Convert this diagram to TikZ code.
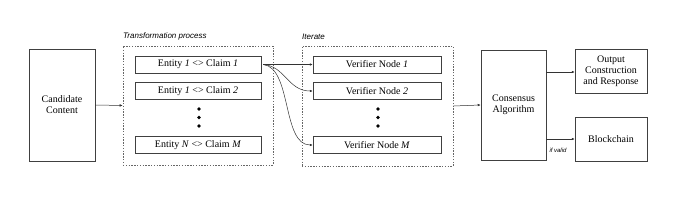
\documentclass[tikz,border=0pt]{standalone}
\usepackage{fontspec}
\setmainfont{Liberation Serif}
\newfontfamily\lblfont{Liberation Sans}
\usetikzlibrary{arrows.meta}
\begin{document}
\begin{tikzpicture}[x=1pt,y=-1pt,
  box/.style={draw=black!75,line width=0.5pt,inner sep=1pt,align=center,font=\fontsize{10}{11}\selectfont},
  dbox/.style={draw=black!60,line width=0.7pt,dash pattern=on 1.4pt off 1.4pt},
  conn/.style={draw=black!80,line width=0.5pt,-{Latex[length=3pt,width=2.6pt]}},
  lbl/.style={font=\lblfont\itshape\fontsize{8}{9}\selectfont,anchor=south west,inner sep=0pt},
  dot/.style={circle,fill=black,inner sep=0pt,minimum size=3.6pt}]
\useasboundingbox (0,0) rectangle (678,211);
\node[box,minimum width=66pt,minimum height=112pt] (cand) at (62,105) {Candidate\\Content};
\node[dbox,minimum width=150pt,minimum height=119pt] (trans) at (198,105.5) {};
\node[lbl] (tl) at (123,40) {Transformation process};
\node[box,minimum width=126pt,minimum height=17pt] (e11) at (198,64.5) {Entity \textit{1} <> Claim \textit{1}};
\node[box,minimum width=126pt,minimum height=17pt] (e12) at (198,91) {Entity \textit{1} <> Claim \textit{2}};
\node[box,minimum width=126pt,minimum height=17pt] (enm) at (198,145) {Entity \textit{N} <> Claim \textit{M}};
\node[dot] (d1) at (199,109) {};
\node[dot] (d2) at (199,117.5) {};
\node[dot] (d3) at (199,126) {};
\node[dbox,minimum width=151pt,minimum height=120pt] (iter) at (377.5,106) {};
\node[lbl] (il) at (302,40) {Iterate};
\node[box,minimum width=128pt,minimum height=17pt] (v1) at (377,64.5) {Verifier Node \textit{1}};
\node[box,minimum width=128pt,minimum height=17pt] (v2) at (377,91) {Verifier Node \textit{2}};
\node[box,minimum width=128pt,minimum height=17pt] (vm) at (377,145) {Verifier Node \textit{M}};
\node[dot] (f1) at (378,109) {};
\node[dot] (f2) at (378,117.5) {};
\node[dot] (f3) at (378,126) {};
\node[box,minimum width=65pt,minimum height=110pt] (cons) at (513.5,105) {Consensus\\Algorithm};
\node[box,minimum width=72pt,minimum height=44pt] (out) at (611,71) {Output\\Construction\\and Response};
\node[box,minimum width=72pt,minimum height=44pt] (bc) at (611,139) {Blockchain};
\coordinate (s) at ([xshift=2pt]e11.east);
\draw[conn] (cand.east) -- (trans.west);
\draw[conn] (s) -- (v1.west);
\draw[conn] (s) .. controls (285,66) and (288,91) .. (v2.west);
\draw[conn] (s) .. controls (292,68) and (282,145) .. (vm.west);
\draw[conn] (iter.east) -- (cons.west);
\draw[conn] (cons.east |- out.west) ++(0,1) coordinate (c1) (c1) -- (c1 -| out.west);
\draw[conn] (cons.east |- bc.west) -- (bc.west);
\node[font=\lblfont\itshape\fontsize{6}{7}\selectfont,inner sep=0pt] (iv) at (558,150) {if valid};
\end{tikzpicture}
\end{document}
